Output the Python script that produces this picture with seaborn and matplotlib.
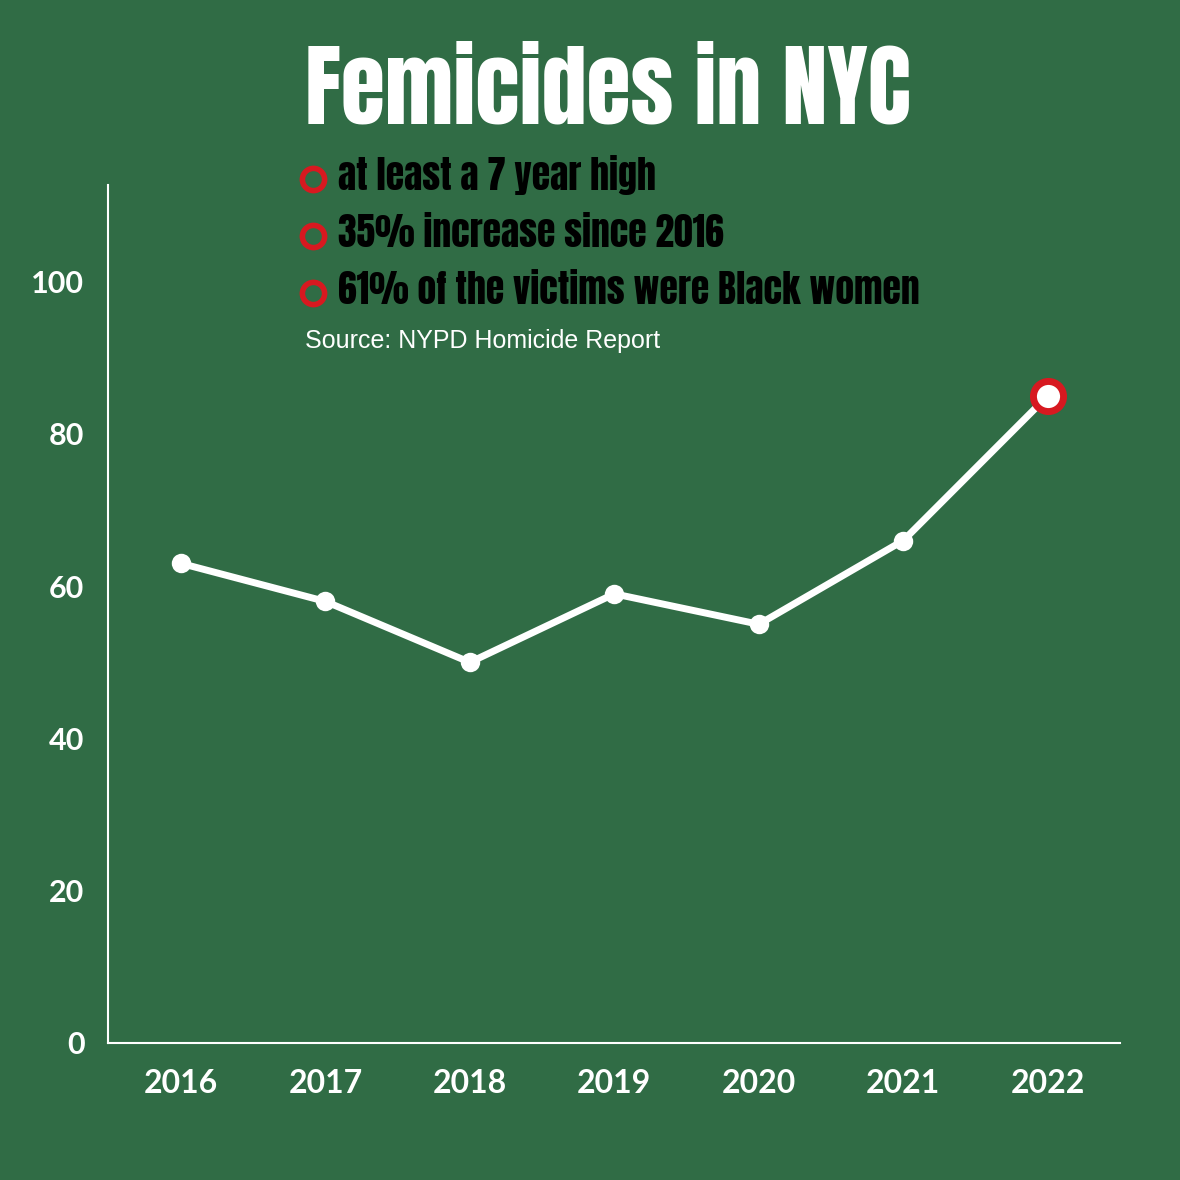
import matplotlib
matplotlib.use("Agg")
import matplotlib.pyplot as plt
from matplotlib.lines import Line2D
import seaborn as sns
import pandas as pd

years = [2016, 2017, 2018, 2019, 2020, 2021, 2022]
femicides = [63, 58, 50, 59, 55, 66, 85]
y_ticks = [0, 20, 40, 60, 80, 100]
title = "Femicides in NYC"
bullets = ["at least a 7 year high", "35% increase since 2016", "61% of the victims were Black women"]
source = "Source: NYPD Homicide Report"

df = pd.DataFrame({"year": years, "count": femicides})

sns.set_theme(style="white")
BG = "#306c45"
plt.rcParams["font.family"] = ["Lato", "DejaVu Sans"]
CONDENSED = ["Anton", "Barlow Condensed", "DejaVu Sans"]

fig = plt.figure(figsize=(11.8, 11.8), dpi=100, facecolor=BG)
ax = fig.add_axes([108/1180, 1 - 1043/1180, (1120-108)/1180, (1043-185)/1180])
ax.set_facecolor(BG)

sns.lineplot(data=df, x="year", y="count", ax=ax, color="white", linewidth=5,
             marker="o", markersize=14, markeredgewidth=0, markerfacecolor="white")
last = df.iloc[[-1]]
sns.scatterplot(data=last, x="year", y="count", ax=ax, s=470, color="white",
                edgecolor="#d71920", linewidth=5, zorder=5)

ax.set_xlim(2015.495, 2022.5)
ax.set_ylim(0, 112.7)
ax.set_xticks(years)
ax.set_xticklabels([str(y) for y in years], fontsize=23, fontweight="bold", color="white")
ax.set_yticks(y_ticks)
ax.set_yticklabels([str(v) for v in y_ticks], fontsize=22, fontweight="bold", color="white")
ax.tick_params(axis="both", colors="white", length=7, width=1, direction="out")
ax.tick_params(axis="x", pad=12)
ax.tick_params(axis="y", pad=10)
for lab in ax.get_xticklabels() + ax.get_yticklabels():
    lab.set_color("white")
for s in ["top", "right"]:
    ax.spines[s].set_visible(False)
for s in ["left", "bottom"]:
    ax.spines[s].set_color("white")
    ax.spines[s].set_linewidth(1.5)
ax.set_xlabel("")
ax.set_ylabel("")
ax.grid(False)

fig.text(608/1180, 1 - 123/1180, title, ha="center", va="baseline", fontsize=65,
         color="white", family=CONDENSED)
by = [190, 247, 304]
for yy, txt in zip(by, bullets):
    fig.add_artist(Line2D([313/1180], [1 - (yy - 11)/1180], transform=fig.transFigure,
                          marker="o", markersize=16, markerfacecolor="none",
                          markeredgecolor="#d71920", markeredgewidth=4, linestyle="none"))
    fig.text(338/1180, 1 - yy/1180, txt, ha="left", va="baseline", fontsize=27,
             color="black", family=CONDENSED)
fig.text(305/1180, 1 - 341/1180, source, ha="left", va="center", fontsize=18,
         color="white", family=["Liberation Sans", "DejaVu Sans"])

fig.savefig("out.png", dpi=100, facecolor=BG)
